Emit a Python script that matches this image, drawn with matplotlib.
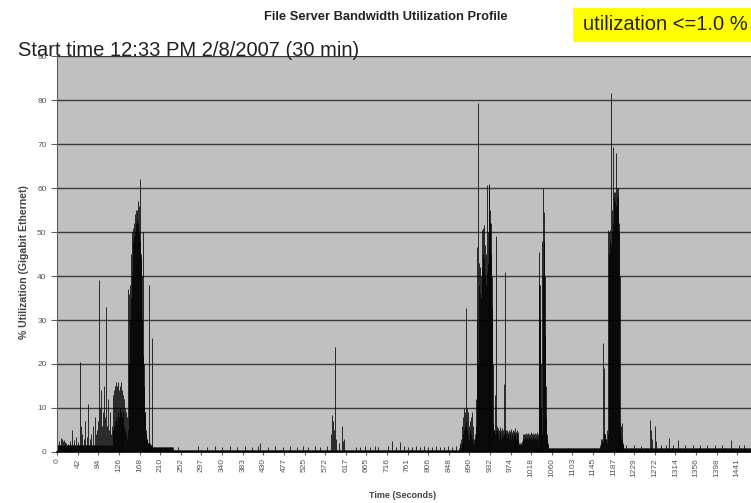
import numpy as np
import matplotlib.pyplot as plt
from matplotlib.patches import Rectangle

plt.rcParams['font.family'] = ['Liberation Sans', 'DejaVu Sans']

# category axis: one bar per sample, labels every 42 samples
n_cat = 1414
tick_labels = ['0', '42', '84', '126', '168', '210', '252', '297', '340', '383',
               '430', '477', '525', '572', '617', '665', '716', '761', '806', '848',
               '890', '932', '974', '1018', '1060', '1103', '1145', '1187', '1229',
               '1272', '1314', '1356', '1398', '1441']

# background level (start, stop, % util)
base_segments = [(0, 141, 1.5), (141, 236, 1.2), (236, 819, 0.4), (819, 1414, 0.9)]

# single bars (sample index, % util)
spikes = [(4, 2.5), (8, 3.2), (10, 3.0), (12, 2.6), (14, 2.8), (16, 2.2), (18, 2.0),
          (22, 1.8), (27, 2.5), (31, 5.0), (34, 2.8), (39, 3.5), (43, 2.2), (47, 20.5),
          (49, 6), (51, 4.0), (54, 3), (57, 7.0), (60, 3.5), (63, 11.0), (66, 3),
          (69, 4.0), (73, 6), (77, 8.0), (80, 4), (82, 5.0), (84, 7), (86, 39.0),
          (88, 10), (90, 14.0), (92, 6), (94, 9), (96, 15.0), (98, 8), (100, 33.0),
          (102, 6), (104, 12.0), (106, 5), (108, 9.0), (110, 4), (112, 6.0),
          (247, 1.2), (287, 1.3), (306, 1.1), (322, 1.3), (336, 1.2), (353, 1.3),
          (367, 1.1), (383, 1.3), (397, 1.2), (410, 1.3), (414, 2.0), (430, 1.2),
          (444, 1.3), (461, 1.1), (475, 1.3), (489, 1.2), (501, 1.3), (512, 1.1),
          (526, 1.3), (536, 1.2), (550, 1.3),
          (558, 4), (560, 8.4), (562, 7), (564, 5), (567, 23.9), (569, 3), (575, 2),
          (581, 6.0), (583, 2.5), (585, 3.0),
          (609, 1.2), (618, 1.1), (628, 1.3), (638, 1.2), (648, 1.3), (654, 1.1),
          (675, 1.3), (683, 2.5), (691, 1.2), (699, 2.3), (707, 1.3), (715, 1.2),
          (723, 1.1), (732, 1.3), (740, 1.2), (748, 1.3), (756, 1.1), (764, 1.2),
          (772, 1.3), (781, 1.2), (789, 1.1), (797, 1.3), (805, 1.2), (813, 1.4),
          (1160, 1.5), (1175, 1.6), (1190, 1.4), (1209, 7.3), (1211, 5.0), (1213, 3.0),
          (1219, 6.0), (1221, 2.5), (1230, 1.5), (1240, 1.6), (1247, 3.2), (1255, 1.5),
          (1266, 2.7), (1280, 1.6), (1295, 1.5), (1310, 1.7), (1325, 1.5), (1340, 1.6),
          (1355, 1.5), (1374, 2.7), (1390, 1.6), (1400, 1.5)]

# dense bursts: first sample index, then consecutive values
burst_a_start = 113
burst_a = [5, 13, 6, 14, 7, 15, 8, 16, 7, 15, 9, 16, 8, 14, 10, 15, 9, 16, 8, 14,
           7, 13, 9, 12, 6, 10, 5, 9]

burst_b_start = 141
burst_b = [4, 3, 8, 5, 37, 20, 36, 30, 38, 35, 45, 40, 50, 48, 51, 49, 52, 50, 54, 52,
           55, 53, 55, 52, 57, 50, 56, 48, 62, 45, 44, 30, 40, 22, 50, 20, 15, 9, 9, 5,
           4, 3, 3, 2, 2, 2, 38, 2, 2, 1.5, 1.5, 1.5, 26, 1.5]

burst_c_start = 819
burst_c = [1, 1.5, 2, 1, 3, 2, 6, 3, 8, 4, 10, 5, 9, 6, 32.7, 7, 10, 5, 9, 4,
           6, 3, 7, 5, 8, 4, 9, 3, 6, 2, 3, 2, 4, 3, 12, 6, 46.6, 30, 79.3, 20,
           43, 38, 42, 36, 35, 40, 50.5, 42, 51, 45, 51.6, 44, 47, 40, 38, 45, 60.7, 41, 43, 50,
           61, 48, 60.7, 55, 52, 45, 52, 40, 33, 20, 6.6, 5, 5, 4, 13, 5, 49, 6, 5, 4,
           5.5, 3, 5, 4.5, 5.7, 3, 5, 4, 5.5, 3.5, 5, 4, 15.5, 5, 41, 4, 5, 3.5, 5, 4,
           4.5, 3, 5, 4, 4.8, 3, 5.2, 4, 4.5, 3, 5, 4, 4.8, 3, 5.5, 4, 4.5, 3, 5, 4,
           4.5, 3, 2, 1.5, 2, 1.5, 2, 1.5, 2.5, 1.5, 4, 3, 4.2, 3, 4, 3.5, 4.3, 3, 4, 3.2,
           4.4, 3, 4, 3.5, 4.2, 3, 4.5, 3.3, 4, 3, 4.3, 3.5, 4, 3, 4.4, 3.2, 4.1, 3, 4.5, 3.4,
           4, 3, 45.5, 38, 38, 30, 20, 10, 8, 4, 48, 40, 60, 54.6, 48, 40, 26.6, 15, 8, 4,
           3, 2, 1.5, 1]

burst_d_start = 1107
burst_d = [1.5, 2, 3, 2.5, 3, 2, 24.8, 4, 19, 4, 4, 3, 3, 2, 5, 4, 50.5, 45, 50, 48,
           50.5, 47, 81.6, 50, 55, 52, 69.3, 58, 59, 57, 59, 56, 68, 58, 60, 58, 60, 52, 50, 40,
           6.6, 4, 6, 3, 6.6, 3, 2, 1.5]

util = np.zeros(n_cat)
for a, b, lev in base_segments:
    util[a:b] = lev
for i, v in spikes:
    util[i] = max(util[i], v)
for start, vals in [(burst_a_start, burst_a), (burst_b_start, burst_b),
                    (burst_c_start, burst_c), (burst_d_start, burst_d)]:
    for k, v in enumerate(vals):
        util[start + k] = max(util[start + k], v)

fig = plt.figure(figsize=(7.51, 5.03), dpi=100)
ax = fig.add_axes([57 / 751, 1 - 452 / 503, 1 - 57 / 751, (452 - 56) / 503])
ax.set_facecolor('#c0c0c0')

# thin column per sample (bars are < 1 px wide here, so draw them as lines)
ax.vlines(np.arange(n_cat), 0, util, color='black', linewidth=0.55)

ax.set_xlim(-0.5, n_cat)
ax.set_ylim(0, 90)
ax.set_yticks(np.arange(0, 91, 10))
ax.set_xticks(np.arange(len(tick_labels)) * 42)
ax.set_xticklabels(tick_labels, rotation=90, fontsize=6, color='#555555')
ax.tick_params(axis='y', labelsize=6, labelcolor='#555555', length=4, width=0.8, color='#606060')
ax.tick_params(axis='x', length=2.5, width=0.8, color='#606060', pad=2)
ax.grid(axis='y', color='#3a3a3a', linewidth=1.0)
ax.set_axisbelow(True)
for s in ['top', 'right']:
    ax.spines[s].set_visible(False)
ax.spines['left'].set_color('#606060')
ax.spines['bottom'].set_color('black')
ax.spines['bottom'].set_linewidth(1.2)

ax.set_ylabel('% Utilization (Gigabit Ethernet)', fontsize=7.6, fontweight='bold',
              color='#444444')
ax.yaxis.set_label_coords(-0.04, (452 - 262) / 396)
ax.set_xlabel('Time (Seconds)', fontsize=6.5, fontweight='bold', color='#444444')
ax.xaxis.set_label_coords((403 - 57) / 694, -0.098)

fig.text(386 / 751, 1 - 17 / 503, 'File Server Bandwidth Utilization Profile',
         ha='center', va='center', fontsize=9.3, fontweight='bold', color='#222222')
fig.text(18 / 751, 1 - 56 / 503, 'Start time 12:33 PM 2/8/2007 (30 min)',
         ha='left', va='baseline', fontsize=14.5, color='#222222')

fig.patches.append(Rectangle((573 / 751, 1 - 42 / 503), 1 - 573 / 751, 34 / 503,
                             transform=fig.transFigure, facecolor='#ffff00',
                             edgecolor='none', zorder=0))
fig.text(583 / 751, 1 - 25 / 503, 'utilization <=1.0 %', ha='left', va='center',
         fontsize=14.5, color='#222222')

fig.savefig('out.png', dpi=100)
